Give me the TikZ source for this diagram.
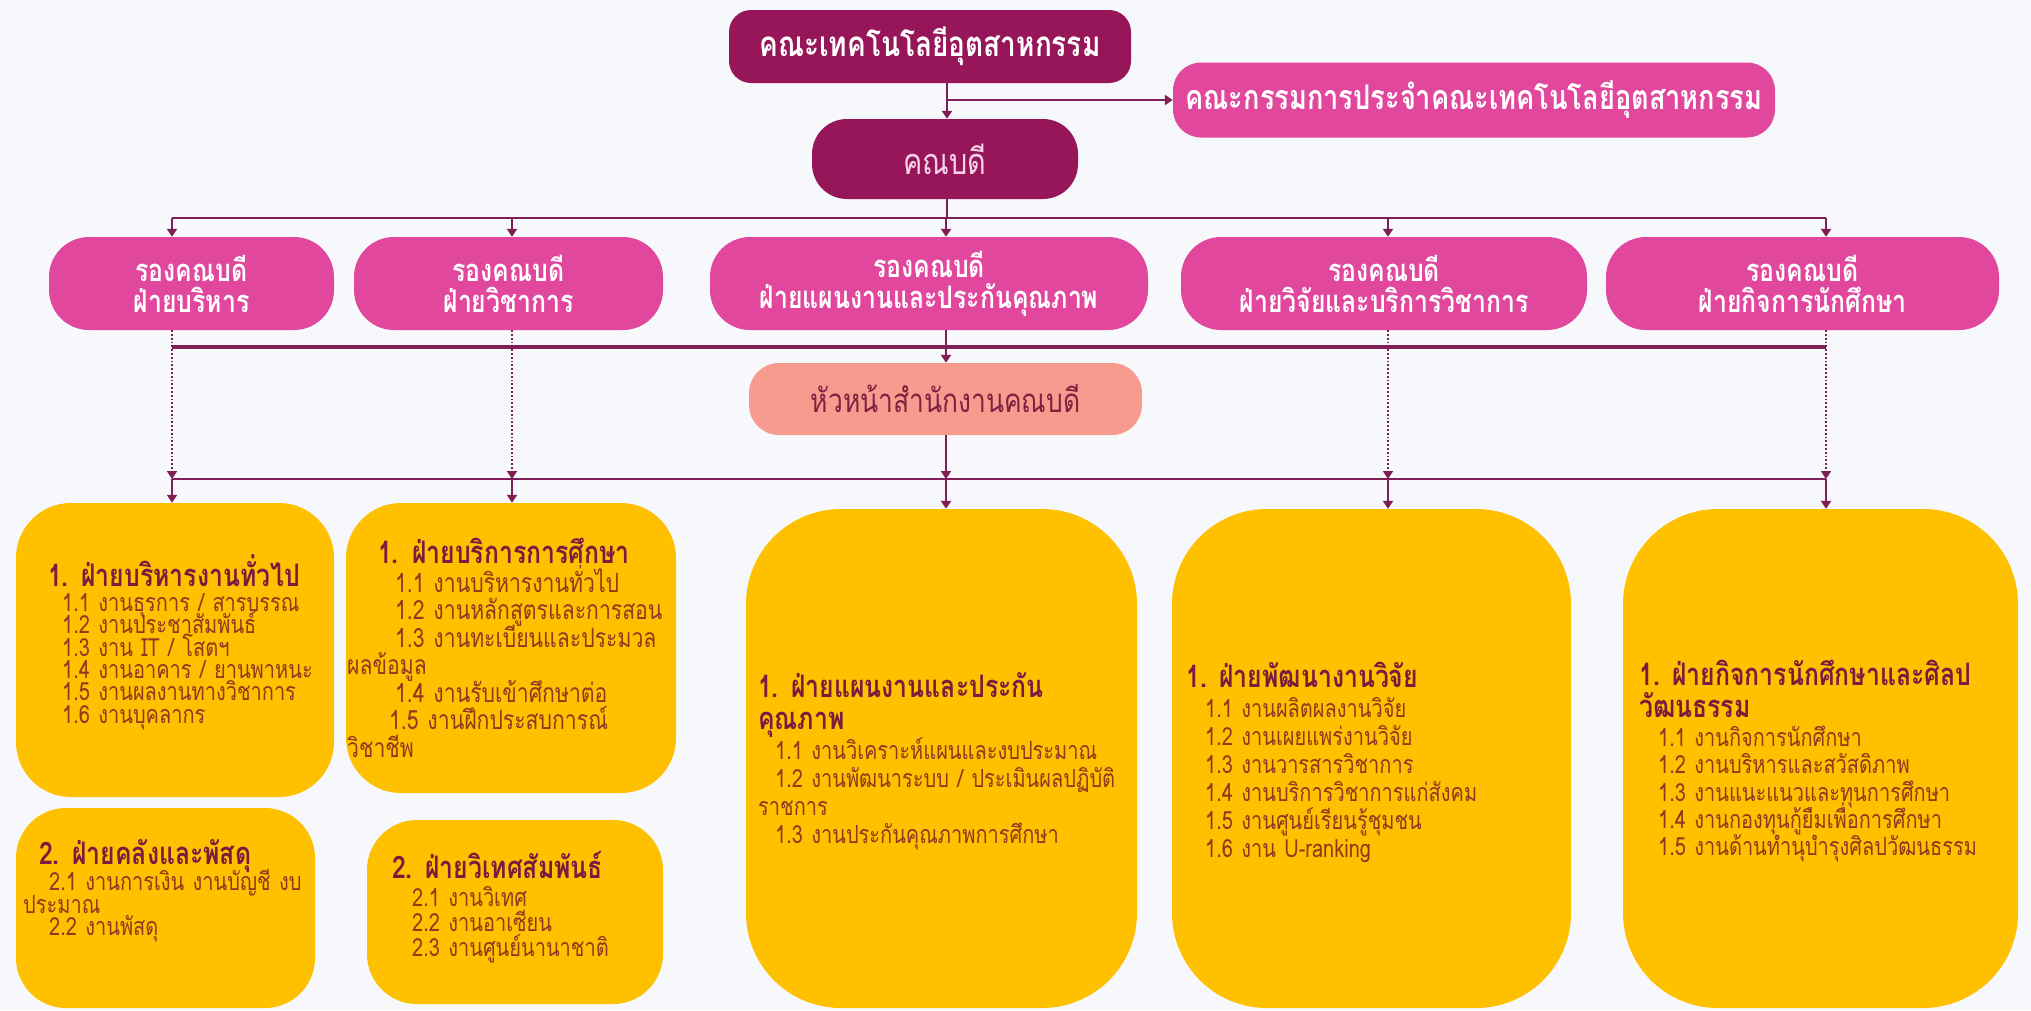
\documentclass[tikz,border=0pt]{standalone}
\usepackage{fontspec}
\setmainfont[Script=Thai, FakeStretch=0.8]{Loma}
\usetikzlibrary{arrows.meta}
\definecolor{bgc}{HTML}{F6F8FB}
\definecolor{plum}{HTML}{961659}
\definecolor{pinkc}{HTML}{E1479D}
\definecolor{salmon}{HTML}{F79B8F}
\definecolor{gold}{HTML}{FFC000}
\definecolor{linec}{HTML}{7E1F55}
\definecolor{ttlc}{HTML}{7A1C3E}
\definecolor{itmc}{HTML}{8E3A1E}
\definecolor{deantxt}{HTML}{F6D3E6}
\definecolor{headtxt}{HTML}{7E2240}
\newcommand\fTop{\fontsize{35}{40}\selectfont\bfseries}
\newcommand\fComm{\fontsize{34}{40}\selectfont\bfseries}
\newcommand\fVP{\fontsize{31}{31}\selectfont\bfseries\lineskiplimit=-100pt\relax}
\newcommand\fDean{\fontsize{36}{40}\selectfont}
\newcommand\fHead{\fontsize{33}{38}\selectfont}
\newcommand\fTtl{\fontsize{31}{32}\selectfont\bfseries\lineskiplimit=-100pt\relax}
\newcommand\fItm[2]{\fontsize{#1}{#2}\selectfont\lineskiplimit=-100pt\relax}
\newcommand\ttl[2][4]{{\fTtl\color{ttlc}#2\par}\vspace{#1pt}}
\newcommand\ind[1]{\hspace*{#1pt}}
\begin{document}
\begin{tikzpicture}[x=1pt,y=-1pt,
  box/.style={inner sep=0pt, align=center},
  plumbox/.style={box, fill=plum},
  pinkbox/.style={box, fill=pinkc, text=white, font=\fVP, rounded corners=40pt, minimum height=93pt},
  goldbox/.style={box, fill=gold},
  conn/.style={draw=linec, line width=2.4pt},
  arr/.style={conn, -{Triangle[width=10pt,length=8pt]}},
  dots/.style={draw=linec, line width=1.8pt, dotted, -{Triangle[width=10pt,length=8pt]}},
  ytext/.style={anchor=west, inner sep=0pt, text width=400pt, align=left, font=\fItm{25}{#1}, text=itmc},
]
\fill[bgc] (0,0) rectangle (2031,1010);
\useasboundingbox (0,0) rectangle (2031,1010);

% column coordinates
\coordinate (sp) at (947,0);
\coordinate (c1) at (172,0);
\coordinate (c2) at (512,0);
\coordinate (c3) at (946,0);
\coordinate (c4) at (1388,0);
\coordinate (c5) at (1826,0);
\coordinate (bus1) at (0,218);
\coordinate (bus2) at (0,347);
\coordinate (bus3) at (0,479);
\coordinate (br) at (947,100);

% top level
\node[plumbox, text=white, font=\fTop, rounded corners=22pt, minimum width=402pt, minimum height=73pt] (top) at (930,46.5) {คณะเทคโนโลยีอุตสาหกรรม};
\node[box, fill=pinkc, text=white, font=\fComm, rounded corners=28pt, minimum width=602pt, minimum height=75pt] (comm) at (1474,100) {คณะกรรมการประจำคณะเทคโนโลยีอุตสาหกรรม};
\node[plumbox, text=deantxt, font=\fDean, rounded corners=35pt, minimum width=266pt, minimum height=80pt] (dean) at (945,159) {คณบดี};

% vice deans
\node[pinkbox, minimum width=285pt] (vp1) at (191.5,283.5) {รองคณบดี\\ฝ่ายบริหาร};
\node[pinkbox, minimum width=309pt] (vp2) at (508.5,283.5) {รองคณบดี\\ฝ่ายวิชาการ};
\node[pinkbox, minimum width=438pt] (vp3) at (929,283.5) {รองคณบดี\\ฝ่ายแผนงานและประกันคุณภาพ};
\node[pinkbox, minimum width=406pt] (vp4) at (1384,283.5) {รองคณบดี\\ฝ่ายวิจัยและบริการวิชาการ};
\node[pinkbox, minimum width=393pt] (vp5) at (1802.5,283.5) {รองคณบดี\\ฝ่ายกิจการนักศึกษา};

% head of office
\node[box, fill=salmon, text=headtxt, font=\fHead, rounded corners=30pt, minimum width=393pt, minimum height=72pt] (head) at (945.5,399) {หัวหน้าสำนักงานคณบดี};

% gold boxes
\node[goldbox, rounded corners=55pt, minimum width=318pt, minimum height=294pt] (y1) at (175,650) {};
\node[goldbox, rounded corners=55pt, minimum width=330pt, minimum height=290pt] (y2) at (511,648) {};
\node[goldbox, rounded corners=50pt, minimum width=299pt, minimum height=200pt] (y1b) at (165.5,908) {};
\node[goldbox, rounded corners=50pt, minimum width=296pt, minimum height=184pt] (y2b) at (515,912) {};
\node[goldbox, rounded corners=95pt, minimum width=391pt, minimum height=499pt] (y3) at (941.5,758.5) {};
\node[goldbox, rounded corners=95pt, minimum width=399pt, minimum height=499pt] (y4) at (1371.5,758.5) {};
\node[goldbox, rounded corners=95pt, minimum width=395pt, minimum height=499pt] (y5) at (1820.5,758.5) {};

% gold box texts
\node[ytext=22.3] (y1t) at (48,642) {\ttl[3]{1. ฝ่ายบริหารงานทั่วไป}
\ind{14}1.1 งานธุรการ / สารบรรณ\\
\ind{14}1.2 งานประชาสัมพันธ์\\
\ind{14}1.3 งาน IT / โสตฯ\\
\ind{14}1.4 งานอาคาร / ยานพาหนะ\\
\ind{14}1.5 งานผลงานทางวิชาการ\\
\ind{14}1.6 งานบุคลากร};

\node[ytext=27.5, font=\fItm{26.5}{27.5}] (y2t) at (347,648) {\ttl[1]{\ind{31}1. ฝ่ายบริการการศึกษา}
\ind{48}1.1 งานบริหารงานทั่วไป\\
\ind{48}1.2 งานหลักสูตรและการสอน\\
\ind{48}1.3 งานทะเบียนและประมวล\\
ผลข้อมูล\\
\ind{48}1.4 งานรับเข้าศึกษาต่อ\\
\ind{42}1.5 งานฝึกประสบการณ์\\
วิชาชีพ};

\node[ytext=22.7] (y1bt) at (23,891) {\ttl[3]{\ind{16}2. ฝ่ายคลังและพัสดุ}
\ind{26}2.1 งานการเงิน งานบัญชี งบ\\
ประมาณ\\
\ind{26}2.2 งานพัสดุ};

\node[ytext=25] (y2bt) at (392,907) {\ttl[3]{2. ฝ่ายวิเทศสัมพันธ์}
\ind{20}2.1 งานวิเทศ\\
\ind{20}2.2 งานอาเซียน\\
\ind{20}2.3 งานศูนย์นานาชาติ};

\node[ytext=28] (y3t) at (758,761) {\ttl[2]{1. ฝ่ายแผนงานและประกัน\\คุณภาพ}
\ind{17}1.1 งานวิเคราะห์แผนและงบประมาณ\\
\ind{17}1.2 งานพัฒนาระบบ / ประเมินผลปฏิบัติ\\
ราชการ\\
\ind{17}1.3 งานประกันคุณภาพการศึกษา};

\node[ytext=28] (y4t) at (1186,762) {\ttl[2]{1. ฝ่ายพัฒนางานวิจัย}
\ind{19}1.1 งานผลิตผลงานวิจัย\\
\ind{19}1.2 งานเผยแพร่งานวิจัย\\
\ind{19}1.3 งานวารสารวิชาการ\\
\ind{19}1.4 งานบริการวิชาการแก่สังคม\\
\ind{19}1.5 งานศูนย์เรียนรู้ชุมชน\\
\ind{19}1.6 งาน U-ranking};

\node[ytext=27.2] (y5t) at (1639,761) {\ttl[2]{1. ฝ่ายกิจการนักศึกษาและศิลป\\วัฒนธรรม}
\ind{19}1.1 งานกิจการนักศึกษา\\
\ind{19}1.2 งานบริหารและสวัสดิภาพ\\
\ind{19}1.3 งานแนะแนวและทุนการศึกษา\\
\ind{19}1.4 งานกองทุนกู้ยืมเพื่อการศึกษา\\
\ind{19}1.5 งานด้านทำนุบำรุงศิลปวัฒนธรรม};

% connectors: top
\draw[arr] (top.south -| sp) -- (dean.north -| sp);
\draw[arr] (br) -- (comm.west);
\draw[conn] (dean.south -| sp) -- (sp |- bus1);
\draw[conn] (c1 |- bus1) -- (c5 |- bus1);
\foreach \c/\v in {c1/vp1, c2/vp2, c3/vp3, c4/vp4, c5/vp5}
  \draw[arr] (\c |- bus1) -- (\v.north -| \c);

% middle bus
\draw[conn, line width=3.4pt] (c1 |- bus2) -- (c5 |- bus2);
\draw[arr] (vp3.south -| c3) -- (head.north -| c3);
\draw[arr] (head.south -| c3) -- (c3 |- bus3);
\foreach \c/\v in {c1/vp1, c2/vp2, c4/vp4, c5/vp5}
  \draw[dots] (\v.south -| \c) -- (\c |- bus3);

% lower bus
\draw[conn] (c1 |- bus3) -- (c5 |- bus3);
\foreach \c/\y in {c1/y1, c2/y2, c3/y3, c4/y4, c5/y5}
  \draw[arr] (\c |- bus3) -- (\y.north -| \c);
\end{tikzpicture}
\end{document}
